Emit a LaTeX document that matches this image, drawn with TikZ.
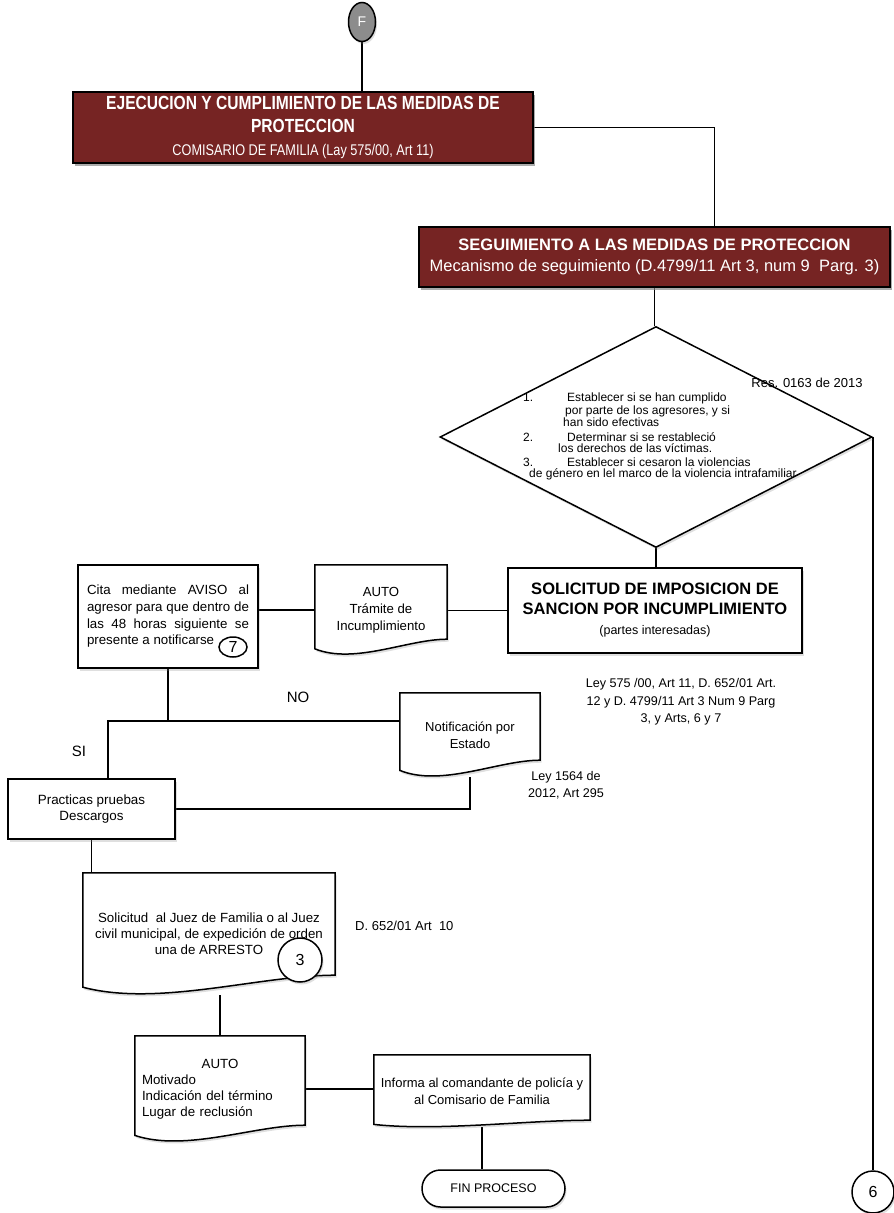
\documentclass[tikz,border=0pt]{standalone}
\usepackage{fontspec}
\setmainfont{Liberation Sans}
\usetikzlibrary{calc,shapes.geometric,shadows}
\definecolor{wine}{RGB}{118,36,35}
\definecolor{fgrey}{RGB}{140,140,140}
\pgfdeclarelayer{wires}
\pgfdeclarelayer{docs}
\pgfsetlayers{wires,docs,main}
\newcommand{\sz}[2]{\fontsize{#1}{#2}\selectfont}
\newcommand{\squeeze}[1]{\scalebox{0.82}[1]{#1}}
% outline of a document shape, #2 = depth of the wave
\newcommand{\docpath}[2]{%
  \path[docedge] let \p1=(#1.south west), \p2=(#1.south east), \n1={\x2-\x1} in
    (#1.north west) -- (#1.north east) -- (\x2,\y2+#2)
    .. controls (\x2-0.3*\n1,\y2+#2) and (\x1+0.3*\n1,\y2-0.6*#2) .. (\x1,\y2+0.4*#2) -- cycle;}

\begin{document}
\begin{tikzpicture}[x=1pt,y=-1pt,
  wire/.style={line width=1.5pt},
  softshadow/.style={drop shadow={opacity=0.25,shadow xshift=1.5pt,shadow yshift=-2.5pt}},
  basebox/.style={rectangle,draw,line width=1.5pt,fill=white,inner sep=0pt,softshadow},
  redbox/.style={basebox,fill=wine,text=white,align=center,drop shadow={opacity=0.55,shadow xshift=1.5pt,shadow yshift=-2.5pt}},
  doc/.style={rectangle,inner sep=0pt,align=center},
  docedge/.style={draw,line width=1.5pt,fill=white,softshadow},
  note/.style={inner sep=0pt,align=center},
  numcirc/.style={circle,draw,line width=1.5pt,fill=white,inner sep=0pt,softshadow,font=\sz{16}{18}}]
\useasboundingbox (0,0) rectangle (894,1213);

% upper part
\node[ellipse,draw,line width=1.5pt,fill=fgrey,minimum width=27,minimum height=39,inner sep=0pt,text=white,font=\sz{14}{16},softshadow] (F) at (362,22) {F};
\node[redbox,minimum width=460,minimum height=71,font=\sz{19}{23}] (ejec) at (303,127.5)
  {{\bfseries\squeeze{EJECUCION Y CUMPLIMIENTO DE LAS MEDIDAS DE}}\\{\bfseries\squeeze{PROTECCION}}\\{\sz{15.5}{23}\squeeze{COMISARIO DE FAMILIA (Lay 575/00, Art 11)}}};
\node[redbox,minimum width=471,minimum height=60,font=\sz{16.5}{21}] (seg) at (654.5,257)
  {\textbf{SEGUIMIENTO A LAS MEDIDAS DE PROTECCION}\\Mecanismo de seguimiento (D.4799/11 Art 3, num 9~~Parg. 3)};

% decision
\node[diamond,draw,line width=1.5pt,fill=white,minimum width=432,minimum height=221,inner sep=0pt,softshadow] (dec) at (656,437) {};
\node[inner sep=0pt,align=left,anchor=north west,font=\sz{12}{11}] (dectext) at (523,393)
  {1.\hspace{34pt}Establecer si se han cumplido\\
   \hspace{42pt}por parte de los agresores, y si\\
   \hspace{40pt}han sido efectivas\\[4pt]
   2.\hspace{34pt}Determinar si se restableció\\
   \hspace{35pt}los derechos de las víctimas.\\[3pt]
   3.\hspace{34pt}Establecer si cesaron la violencias\\
   \hspace{6pt}de género en lel marco de la violencia intrafamiliar};
\node[note,font=\sz{13}{15}] (res) at (807,383) {Res. 0163 de 2013};

% sancion
\node[basebox,minimum width=294,minimum height=85,align=center,font=\sz{16.5}{20}] (sol) at (655,610.5)
  {\textbf{SOLICITUD DE IMPOSICION DE}\\\textbf{SANCION POR INCUMPLIMIENTO}\\{\sz{12.5}{15}(partes interesadas)}};
\node[note,font=\sz{12.6}{17.5}] (ley) at (681,702) {Ley 575 /00, Art 11, D. 652/01 Art.\\12 y D. 4799/11 Art 3 Num 9 Parg\\3, y Arts, 6 y 7};
\node[doc,minimum width=132,minimum height=90,font=\sz{13.2}{17}] (tram) at (381,610) {AUTO\\Trámite de\\Incumplimiento};
\node[basebox,text width=162,inner xsep=9pt,minimum height=103,align=justify,font=\sz{13.3}{16.7}] (cita) at (168,616.5)
  {Cita mediante AVISO al\linebreak agresor para que dentro de\linebreak las 48 horas siguiente se\linebreak presente a notificarse};
\node[ellipse,draw,line width=1.5pt,fill=white,minimum width=28,minimum height=20,inner sep=0pt,font=\sz{16}{18}] (siete) at (233,647) {7};

% SI / NO
\coordinate (split) at (168,721);
\coordinate (siturn) at (108,721);
\node[note,font=\sz{15}{17}] (no) at (298,697) {NO};
\node[note,font=\sz{15}{17}] (si) at (79,751) {SI};
\node[doc,minimum width=140,minimum height=84,font=\sz{13}{17}] (notif) at (470,735) {Notificación por\\Estado};
\node[note,font=\sz{12.6}{17}] (ley2) at (566,785) {Ley 1564 de\\2012, Art 295};
\node[basebox,minimum width=167,minimum height=60,align=center,font=\sz{13.4}{16}] (prac) at (91.5,809) {Practicas pruebas\\Descargos};

% arresto
\node[doc,minimum width=252,minimum height=122,font=\sz{13.3}{16}] (arresto) at (209,934)
  {Solicitud~~al Juez de Familia o al Juez\\civil municipal, de expedición de orden\\una de ARRESTO};
\node[numcirc,minimum size=44] (tres) at (300,960) {3};
\node[note,font=\sz{13}{15},anchor=west] (dart) at (355,926) {D. 652/01 Art~~10};
\node[doc,minimum width=170,minimum height=106,text width=156,align=left,font=\sz{13.3}{16}] (auto2) at (220,1089)
  {\makebox[\linewidth]{AUTO}\\Motivado\\Indicación del término\\Lugar de reclusión};
\node[doc,minimum width=216,minimum height=72,font=\sz{13}{17}] (informa) at (482,1091) {Informa al comandante de policía y\\al Comisario de Familia};
\node[basebox,rounded corners=18.5,minimum width=143,minimum height=37,font=\sz{12.5}{14}] (fin) at (493.5,1188.5) {FIN PROCESO};
\node[numcirc,minimum size=42] (seis) at (873,1192) {6};

\begin{pgfonlayer}{docs}
\docpath{tram}{16}
\docpath{notif}{17}
\docpath{arresto}{20}
\docpath{auto2}{17}
\docpath{informa}{7}
\end{pgfonlayer}

\begin{pgfonlayer}{wires}
\draw[wire] (F.south) -- (F.south |- ejec.north);
\draw[wire] (ejec.east) -| ($(seg.north)+(60,0)$);
\draw[wire] (seg.south) -- (seg.south |- dec.north);
\draw[wire] (dec.east) -- (dec.east |- seis.north);
\draw[wire] (dec.south) -- (dec.south |- sol.north);
\draw[wire] (sol.west) -- (sol.west -| tram.east);
\draw[wire] (tram.west) -- (tram.west -| cita.east);
\draw[wire] (cita.south) -- (split);
\draw[wire] (split -| notif.west) -- (siturn) -- (siturn |- prac.north);
\draw[wire] (prac.east) -| (notif.south);
\draw[wire] (prac.south) -- (prac.south |- arresto.north);
\draw[wire] (auto2.north |- arresto.south) -- (auto2.north);
\draw[wire] (auto2.east) -- (auto2.east -| informa.west);
\draw[wire] (informa.south) -- (informa.south |- fin.north);
%\draw[wire] (dec.south) -- ++(0,10);
\end{pgfonlayer}
\end{tikzpicture}
\end{document}
